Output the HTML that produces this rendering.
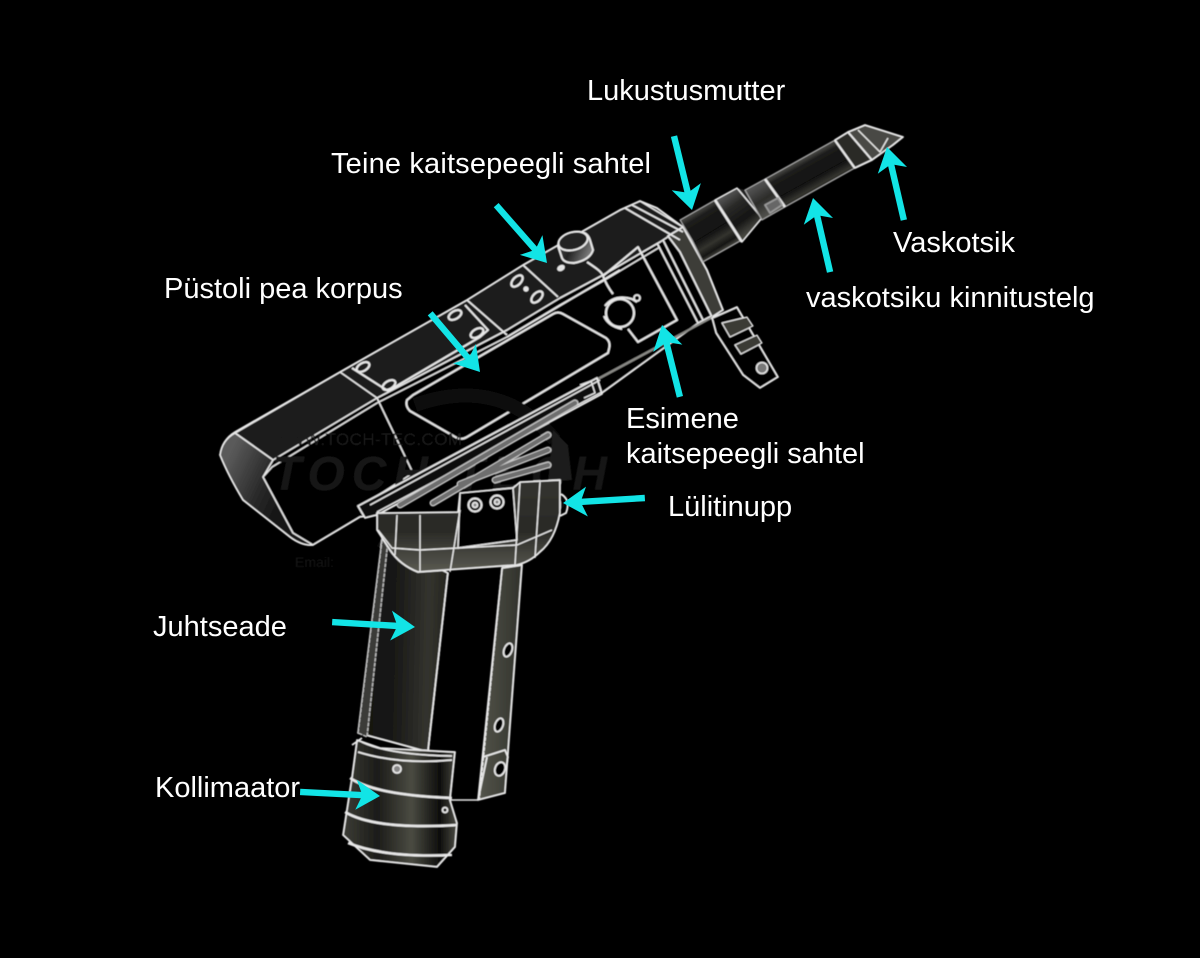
<!DOCTYPE html>
<html><head><meta charset="utf-8"><style>
html,body{margin:0;padding:0;background:#000;width:1200px;height:958px;overflow:hidden}
svg{display:block}
text{font-family:"Liberation Sans",sans-serif;font-size:29px;fill:#fff}
</style></head><body>
<svg width="1200" height="958" viewBox="0 0 1200 958" xmlns="http://www.w3.org/2000/svg">
<defs>
<filter id="b" x="-5%" y="-5%" width="110%" height="110%"><feGaussianBlur stdDeviation="0.5"/></filter>
<linearGradient id="grip" x1="0" y1="0" x2="1" y2="0.05"><stop offset="0" stop-color="#0d0d0c"/><stop offset=".45" stop-color="#1a1a18"/><stop offset=".8" stop-color="#33332e"/><stop offset="1" stop-color="#26261f"/></linearGradient>
<linearGradient id="strip" x1="0" y1="0" x2="1" y2="0"><stop offset="0" stop-color="#55564c"/><stop offset="1" stop-color="#30312b"/></linearGradient>
<linearGradient id="coll" x1="0" y1="0" x2="1" y2="0"><stop offset="0" stop-color="#3c3d36"/><stop offset=".3" stop-color="#1c1c19"/><stop offset=".6" stop-color="#4a4b42"/><stop offset=".85" stop-color="#0e0e0c"/><stop offset="1" stop-color="#4c4c44"/></linearGradient>
<linearGradient id="collar" x1="0" y1="0" x2="0" y2="1"><stop offset="0" stop-color="#333330"/><stop offset=".55" stop-color="#2a2a26"/><stop offset="1" stop-color="#5a5a52"/></linearGradient>
<linearGradient id="tubeL" gradientUnits="userSpaceOnUse" x1="800" y1="160" x2="820" y2="196"><stop offset="0" stop-color="#4a4a46"/><stop offset=".15" stop-color="#1c1c1b"/><stop offset=".55" stop-color="#111"/><stop offset=".75" stop-color="#33332e"/><stop offset=".9" stop-color="#161614"/><stop offset="1" stop-color="#44443e"/></linearGradient>
<linearGradient id="tubeA" gradientUnits="userSpaceOnUse" x1="697" y1="210" x2="722" y2="251"><stop offset="0" stop-color="#4a4a46"/><stop offset=".15" stop-color="#1c1c1b"/><stop offset=".55" stop-color="#111"/><stop offset=".75" stop-color="#33332e"/><stop offset=".9" stop-color="#161614"/><stop offset="1" stop-color="#44443e"/></linearGradient>
<linearGradient id="tubeC" gradientUnits="userSpaceOnUse" x1="727" y1="194" x2="752" y2="229"><stop offset="0" stop-color="#555"/><stop offset=".3" stop-color="#2a2a28"/><stop offset=".7" stop-color="#141413"/><stop offset="1" stop-color="#44443e"/></linearGradient>
<linearGradient id="tubeN" gradientUnits="userSpaceOnUse" x1="755" y1="185" x2="773" y2="213"><stop offset="0" stop-color="#555"/><stop offset=".5" stop-color="#2c2c2a"/><stop offset="1" stop-color="#555550"/></linearGradient>
<linearGradient id="cap" gradientUnits="userSpaceOnUse" x1="222" y1="470" x2="285" y2="500"><stop offset="0" stop-color="#5a5a5a"/><stop offset=".6" stop-color="#2a2a2a"/><stop offset="1" stop-color="#141414"/></linearGradient>
<linearGradient id="knob" x1="0" y1="0" x2="1" y2="0.4"><stop offset="0" stop-color="#555"/><stop offset=".5" stop-color="#222"/><stop offset="1" stop-color="#777"/></linearGradient>
</defs>

<g filter="url(#b)" stroke="#e8e8e8" stroke-width="1.8" stroke-linejoin="round" fill="none">
<!-- body -->
<path d="M220,455 Q222,440 235,432 L340,372 L467,300 L523,265 L620,210 L640,201 L657,208 L683,227 L707,270 L723,310 L700,322 L602,393 L377,515 L360,517 L313,545 Q302,546 290,537 L243,500 Q228,475 220,455 Z" fill="#000"/>
<!-- top band -->
<path d="M235,433 L340,372 L467,300 L523,265 L620,210 L640,201 L683,227 L660,242 L603,275 L560,298 L507,330 L377,398 L273,460 Z" fill="#1c1c1c" stroke-width="1.6"/>
<path d="M220,455 Q222,440 235,433 L273,460 L263,477 L293,533 L313,545 Q302,546 290,537 L243,500 Q228,475 220,455 Z" fill="url(#cap)" stroke-width="1.6"/>
<path d="M263,477 L272,467 L377,403 L507,337 L560,305 L603,281 L660,247" stroke-width="1.4"/>
<path d="M340,372 L377,398 L413,473 L360,507" stroke-width="1.5"/>
<path d="M467,300 L507,335 M523,265 L558,297"/>
<path d="M352,368 L388,391 L480,337 L488,330 L465,305" stroke-width="2"/>
<path d="M507,337 L620,270"/>
<g stroke-width="2.2">
<ellipse cx="363" cy="367" rx="7" ry="4" transform="rotate(-30 363 367)"/>
<ellipse cx="389" cy="385" rx="7" ry="4" transform="rotate(-30 389 385)"/>
<ellipse cx="455" cy="315" rx="7" ry="4" transform="rotate(-30 455 315)"/>
<ellipse cx="477" cy="333" rx="7" ry="4" transform="rotate(-30 477 333)"/>
<ellipse cx="517" cy="281" rx="7" ry="4" transform="rotate(-45 517 281)"/>
<ellipse cx="537" cy="297" rx="7" ry="4" transform="rotate(-45 537 297)"/>
<circle cx="526" cy="289" r="1.6" fill="#ddd"/>
<ellipse cx="561" cy="268" rx="3" ry="1.8" transform="rotate(-30 561 268)" fill="#ddd"/>
</g>
<!-- window -->
<path d="M407,400 L413,395 L553,314 Q558,311 563,314 L606,338 Q611,342 609,349 L608,353 L467,437 Q462,440 457,438 L410,411 Q405,406 407,400 Z" fill="#000" stroke-width="2"/>
<!-- watermark -->
<g stroke="none">
<path d="M415,405 Q500,375 555,440" stroke="#0e0e0e" stroke-width="14" fill="none"/>
<path d="M380,540 Q480,590 560,500" stroke="#101010" stroke-width="14" fill="none"/>
<text x="272" y="445" style="font-size:17px;fill:#1a1a1a" textLength="190">WWW.TOCH-TEC.COM</text>
<text x="272" y="490" style="font-size:48px;font-weight:bold;font-style:italic;fill:#191919" textLength="335">TOCH TECH</text>
<text x="295" y="567" style="font-size:14px;fill:#181818">Email:</text>
</g>
<!-- top knob -->
<path d="M558,246 Q558,236 573,232 Q587,230 590,240 L593,250 Q590,260 574,263 Q564,263 562,258 Z" fill="url(#knob)" stroke-width="2"/>
<ellipse cx="573" cy="241" rx="15" ry="9" fill="#222" transform="rotate(-15 573 241)" stroke-width="2"/>
<!-- panel and front knob -->
<path d="M587,262 C596,268 602,272 603,276 C606,284 610,290 613,294 M603,276 L638,247 L677,320 L638,342 L628,329" stroke-width="2"/>
<circle cx="620" cy="313" r="14" fill="#000" stroke-width="2.2"/>
<path d="M605,306 Q614,294 632,299 L637,302 M604,316 Q608,326 622,329" stroke-width="2"/>
<circle cx="637" cy="298" r="3"/>
<!-- head strips -->
<path d="M683,227 L707,270 L723,310 L712,317 L680,252 L668,236 Z" fill="#3c3c37"/>
<path d="M657,243 L698,323 M663,240 L703,320 M625,208 L680,240 M632,205 L683,232"/>
<path d="M596,380 L713,317" stroke="#8a8a86" stroke-width="2.4"/>
<!-- bracket -->
<path d="M712,318 L737,307 L778,377 L760,388 L743,375 L716,333 Z" fill="#000" stroke-width="1.8"/>
<path d="M722,323 L747,317 L753,326 L730,337 Z M735,345 L757,335 L762,343 L741,354 Z" fill="#3a3a36" stroke-width="1.2"/>
<circle cx="762" cy="368" r="5.5" fill="#777" stroke-width="1.6"/>
<!-- rail -->
<path d="M358,506 L597,378 L602,394 L377,515 L365,518 Z" fill="#111"/>
<path d="M370,505 L600,380 M377,512 L602,392" stroke-width="1.4"/>
<path d="M580,385 L591,381 L595,393 L584,398" stroke-width="1.4"/>
<!-- wedge behind grip -->
<path d="M553,430 L568,445 L572,480 L548,482 Z" fill="#1c1c1a" stroke="none"/>
<!-- slats -->
<g stroke-linecap="round">
<path d="M400,505 L575,403 M433,503 L548,435 M460,484 L548,450 M495,480 L548,465" stroke="#c8c8c8" stroke-width="7"/>
<path d="M400,505 L575,403 M433,503 L548,435 M460,484 L548,450 M495,480 L548,465" stroke="#6e6e6e" stroke-width="4.5"/>
</g>
<!-- grip -->
<path d="M382,540 L358,733 L428,752 L448,573 Z" fill="url(#grip)"/>
<path d="M382,540 L358,733 L367,737 L388,540 Z" fill="#3a3a38" stroke="#c0c0c0" stroke-width="1.4" stroke-dasharray="4 1"/>
<path d="M448,573 L428,752" stroke-dasharray="4 1"/>
<path d="M502,568 L522,565 L505,793 L478,800 Z" fill="url(#strip)"/>
<path d="M502,568 L479,800" stroke-dasharray="4 1"/>
<ellipse cx="508" cy="650" rx="4" ry="7" transform="rotate(20 508 650)" fill="#000"/>
<ellipse cx="499" cy="725" rx="4" ry="7" transform="rotate(20 499 725)" fill="#000"/>
<ellipse cx="500" cy="769" rx="5" ry="7" transform="rotate(20 500 769)" fill="#000"/>
<path d="M483,757 L505,750 L508,757 L506,770 M487,757 L478,800"/>
<!-- collar -->
<path d="M377,513 L458,512 L460,493 L513,488 L520,482 L560,480 L560,513 Q555,540 540,552 Q530,562 517,565 L418,572 Q400,565 390,550 L377,530 Z" fill="url(#collar)"/>
<path d="M460,493 L513,488 L517,540 L458,548 Z" fill="#060606" stroke-width="1.4"/>
<path d="M378,530 L392,548 L420,550 L458,548 L517,545 L552,530 M397,515 L395,555 M420,515 L420,572 M460,510 L450,572 M520,482 L515,565 M540,482 L535,558" stroke-width="1.4"/>
<circle cx="475" cy="505" r="6.5" stroke-width="2"/><circle cx="475" cy="505" r="2.5" fill="#888"/>
<circle cx="497" cy="502" r="6.5" stroke-width="2"/><circle cx="497" cy="502" r="2.5" fill="#888"/>
<path d="M561,494 Q571,500 566,513 L560,516" stroke-width="2"/>
<!-- collimator -->
<path d="M357,740 L380,748 L455,752 L450,800 L457,823 L455,847 L437,867 L370,860 L343,835 L352,777 Z" fill="url(#coll)"/>
<path d="M352,745 L362,738 M362,742 Q390,755 452,756 M358,752 Q400,765 452,760" stroke-width="1.8"/>
<path d="M350,778 Q375,795 452,798 M345,812 Q375,830 457,825 M348,843 Q385,858 452,855" stroke-width="2.6"/>
<circle cx="397" cy="769" r="4" fill="#888"/>
<circle cx="445" cy="810" r="2.5"/>
<path d="M455,752 L450,800 L478,800" stroke-width="1.4"/>
<!-- tube -->
<path d="M680,220 L715,200 L742,240 L703,262 L692,240 Z" fill="url(#tubeA)" stroke="#aaa" stroke-width="1.2"/>
<path d="M737,188 L745,190 L762,220 L762,218 Z" fill="#222" stroke="none"/>
<path d="M715,200 L737,188 L762,218 L742,242 Z" fill="url(#tubeC)" stroke-width="1.4"/>
<path d="M715,200 L742,242" stroke-width="2.6"/>
<path d="M745,190 L765,179 L785,207 L762,220 Z" fill="url(#tubeN)" stroke="#aaa" stroke-width="1.2"/>
<path d="M765,179 L835,140 L855,168 L785,207 Z" fill="url(#tubeL)" stroke="#aaa" stroke-width="1.2"/>
<path d="M765,179 L785,207 M835,140 L855,168" stroke-width="2.6"/>
<path d="M765,205 L778,198 L782,205 L770,213 Z" fill="#666" stroke="#999"/>
<path d="M835,140 L848,132 L872,160 L855,168 Z" fill="#2a2a28"/>
<path d="M848,132 L865,125 L903,137 L893,145 L872,160 Z" fill="#4a4a44" stroke-width="1.8"/>
<path d="M858,130 L880,152 L888,138" stroke-width="1.4"/>
</g>

<!-- arrows -->
<g fill="#12e4e6">
<path transform="translate(692,210) rotate(76.3)" d="M-76,-3.2H-19L-24,-15L0,0L-24,15L-19,3.2H-76Z"/>
<path transform="translate(547,263) rotate(48.7)" d="M-77,-3.2H-19L-24,-15L0,0L-24,15L-19,3.2H-77Z"/>
<path transform="translate(480,372) rotate(49.7)" d="M-77,-3.2H-19L-24,-15L0,0L-24,15L-19,3.2H-77Z"/>
<path transform="translate(662,325) rotate(-104)" d="M-74,-3.2H-19L-24,-15L0,0L-24,15L-19,3.2H-74Z"/>
<path transform="translate(813,198) rotate(-103)" d="M-76,-3.2H-19L-24,-15L0,0L-24,15L-19,3.2H-76Z"/>
<path transform="translate(887,147) rotate(-103)" d="M-75,-3.2H-19L-24,-15L0,0L-24,15L-19,3.2H-75Z"/>
<path transform="translate(563,503) rotate(176.5)" d="M-82,-3.2H-19L-24,-15L0,0L-24,15L-19,3.2H-82Z"/>
<path transform="translate(415,627) rotate(3.4)" d="M-83,-3.2H-19L-24,-15L0,0L-24,15L-19,3.2H-83Z"/>
<path transform="translate(380,796) rotate(2.9)" d="M-80,-3.2H-19L-24,-15L0,0L-24,15L-19,3.2H-80Z"/>
</g>

<!-- labels -->
<text x="587" y="100">Lukustusmutter</text>
<text x="331" y="173" textLength="320">Teine kaitsepeegli sahtel</text>
<text x="164" y="298">Püstoli pea korpus</text>
<text x="893" y="252">Vaskotsik</text>
<text x="806" y="307">vaskotsiku kinnitustelg</text>
<text x="626" y="428">Esimene</text>
<text x="626" y="463">kaitsepeegli sahtel</text>
<text x="668" y="516">Lülitinupp</text>
<text x="153" y="636">Juhtseade</text>
<text x="155" y="797">Kollimaator</text>
</svg>
</body></html>
